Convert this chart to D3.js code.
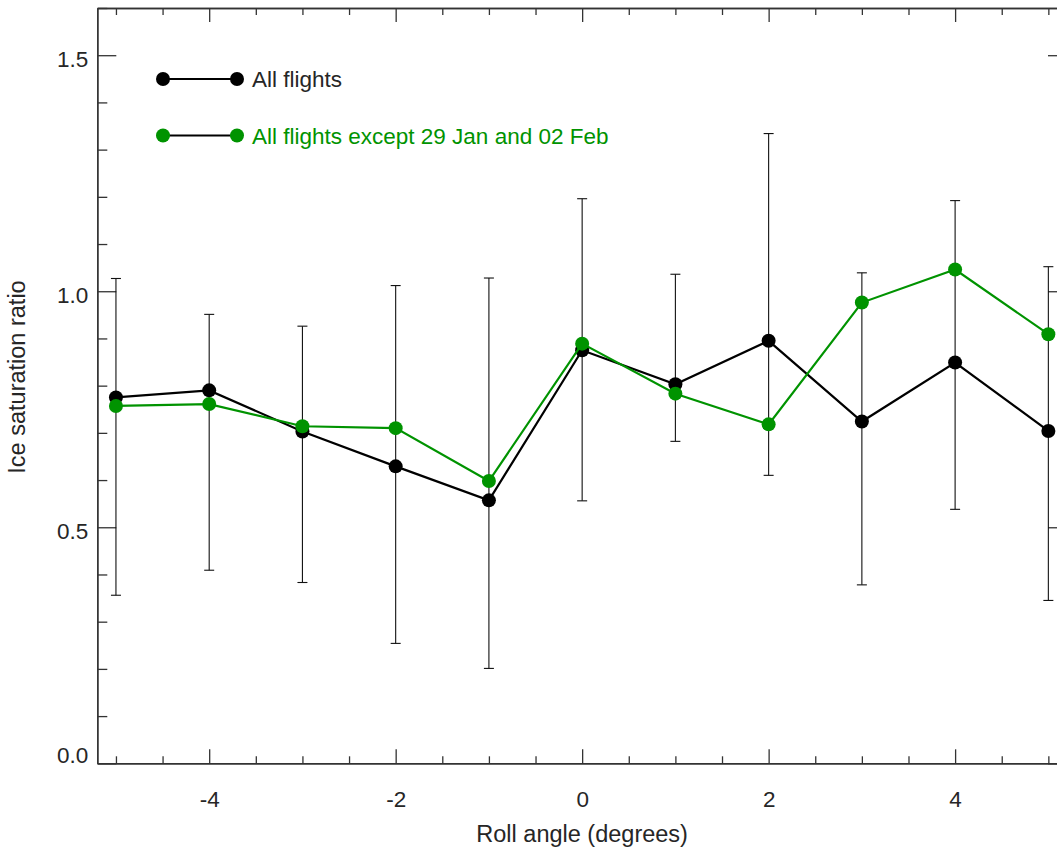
<!DOCTYPE html>
<html>
<head>
<meta charset="utf-8">
<script src="https://cdn.jsdelivr.net/npm/d3@7"></script>
<style>
  body { margin: 0; background: #fff; }
  text { font-family: "Liberation Sans", Arial, Helvetica, sans-serif; fill: #262626; }
</style>
</head>
<body>
<div id="chart"></div>
<script>
// roll angle bins (degrees)
var rollAngle = [-5, -4, -3, -2, -1, 0, 1, 2, 3, 4, 5];
// all flights
var allFlights = [0.775, 0.790, 0.703, 0.629, 0.557, 0.875, 0.803, 0.895, 0.724, 0.849, 0.704];
// all flights except 29 Jan and 02 Feb
var exceptFlights = [0.757, 0.761, 0.714, 0.710, 0.598, 0.889, 0.783, 0.718, 0.976, 1.046, 0.909];
// error bar limits
var errLow = [0.356, 0.409, 0.383, 0.254, 0.201, 0.556, 0.682, 0.610, 0.378, 0.538, 0.345];
var errHigh = [1.027, 0.951, 0.926, 1.012, 1.028, 1.196, 1.036, 1.334, 1.039, 1.192, 1.052];

var xMajor = [-4, -2, 0, 2, 4];
var xMinor = [-5, -4.5, -3.5, -3, -2.5, -1.5, -1, -0.5, 0.5, 1, 1.5, 2.5, 3, 3.5, 4.5, 5];
var yMajor = [0, 0.5, 1.0, 1.5];
var yMinor = [0.1, 0.2, 0.3, 0.4, 0.6, 0.7, 0.8, 0.9, 1.1, 1.2, 1.3, 1.4, 1.6];

var legendLabels = ["All flights", "All flights except 29 Jan and 02 Feb"];
var green = "#009300";

var W = 1057, H = 849;
var margin = { top: 8, left: 97.3 },
    width = 1067 - margin.left,
    height = 763.3 - margin.top;

var svg = d3.select("#chart").append("svg")
    .attr("width", W)
    .attr("height", H)
  .append("g")
    .attr("transform", "translate(" + margin.left + "," + margin.top + ")");

var x = d3.scaleLinear().domain([-5.2, 5.2]).range([0, width]);
var y = d3.scaleLinear().domain([0, 1.6]).range([height, 0]);

function styleAxis(g) {
    g.selectAll("path.domain").attr("stroke", "#333").attr("stroke-width", 1.4);
    g.selectAll(".tick line").attr("stroke", "#333").attr("stroke-width", 1.3);
    g.selectAll("text").attr("font-size", "22.5px").attr("fill", "#262626")
        .attr("font-family", '"Liberation Sans", Arial, sans-serif');
}

// minor ticks first
svg.append("g").attr("transform", "translate(0," + height + ")")
    .call(d3.axisBottom(x).tickValues(xMinor).tickSize(-7).tickSizeOuter(0).tickFormat(""))
    .call(styleAxis);
svg.append("g")
    .call(d3.axisTop(x).tickValues(xMinor).tickSize(-7).tickSizeOuter(0).tickFormat(""))
    .call(styleAxis);
svg.append("g")
    .call(d3.axisLeft(y).tickValues(yMinor).tickSize(-10).tickSizeOuter(0).tickFormat(""))
    .call(styleAxis);
svg.append("g").attr("transform", "translate(" + width + ",0)")
    .call(d3.axisRight(y).tickValues(yMinor).tickSize(-10).tickSizeOuter(0).tickFormat(""))
    .call(styleAxis);

// major ticks
svg.append("g").attr("transform", "translate(0," + height + ")")
    .call(d3.axisBottom(x).tickValues(xMajor).tickSize(-14).tickSizeOuter(0)
        .tickPadding(28).tickFormat(d => String(d)))
    .call(styleAxis);
svg.append("g")
    .call(d3.axisTop(x).tickValues(xMajor).tickSize(-14).tickSizeOuter(0).tickFormat(""))
    .call(styleAxis);
var yAx = svg.append("g")
    .call(d3.axisLeft(y).tickValues(yMajor).tickSize(-19).tickSizeOuter(0)
        .tickPadding(9).tickFormat(d => d.toFixed(1)))
    .call(styleAxis);
yAx.selectAll(".tick text").attr("dy", function(d) { return d === 0 ? "-0.05em" : "0.5em"; });
svg.append("g").attr("transform", "translate(" + width + ",0)")
    .call(d3.axisRight(y).tickValues(yMajor).tickSize(-19).tickSizeOuter(0).tickFormat(""))
    .call(styleAxis);

// error bars
var eb = svg.append("g").selectAll(".err")
    .data(rollAngle)
  .enter().append("g")
    .attr("class", "err");
eb.append("line")
    .attr("x1", d => x(d)).attr("x2", d => x(d))
    .attr("y1", (d, i) => y(errLow[i])).attr("y2", (d, i) => y(errHigh[i]));
eb.append("line")
    .attr("x1", d => x(d) - 5).attr("x2", d => x(d) + 5)
    .attr("y1", (d, i) => y(errLow[i])).attr("y2", (d, i) => y(errLow[i]));
eb.append("line")
    .attr("x1", d => x(d) - 5).attr("x2", d => x(d) + 5)
    .attr("y1", (d, i) => y(errHigh[i])).attr("y2", (d, i) => y(errHigh[i]));
eb.selectAll("line").attr("stroke", "#111").attr("stroke-width", 1.1);

function drawSeries(vals, color) {
    var line = d3.line()
        .x((d, i) => x(rollAngle[i]))
        .y(d => y(d));
    svg.append("path")
        .datum(vals)
        .attr("d", line)
        .attr("fill", "none")
        .attr("stroke", color)
        .attr("stroke-width", 2.2);
    svg.append("g").selectAll("circle")
        .data(vals)
      .enter().append("circle")
        .attr("cx", (d, i) => x(rollAngle[i]))
        .attr("cy", d => y(d))
        .attr("r", 7)
        .attr("fill", color);
}

drawSeries(allFlights, "#000");
drawSeries(exceptFlights, green);

// legend
var legend = svg.append("g").attr("transform", "translate(" + (163 - margin.left) + "," + (79 - margin.top) + ")");
var legendColors = ["#000", green];
legendLabels.forEach(function(lab, i) {
    var row = legend.append("g").attr("transform", "translate(0," + (i * 56.5) + ")");
    row.append("line").attr("x1", 0).attr("x2", 74).attr("y1", 0).attr("y2", 0)
        .attr("stroke", "#000").attr("stroke-width", 2.2);
    row.append("circle").attr("cx", 0).attr("cy", 0).attr("r", 7).attr("fill", legendColors[i]);
    row.append("circle").attr("cx", 74).attr("cy", 0).attr("r", 7).attr("fill", legendColors[i]);
    row.append("text").attr("x", 89).attr("y", 0).attr("dy", "0.36em")
        .attr("font-size", "22.5px")
        .style("fill", i === 0 ? "#262626" : green)
        .text(lab);
});

// axis titles
svg.append("text")
    .attr("x", x(0)).attr("y", 842 - margin.top)
    .attr("text-anchor", "middle")
    .attr("font-size", "23.5px")
    .text("Roll angle (degrees)");
svg.append("text")
    .attr("transform", "translate(" + (25 - margin.left) + "," + (377 - margin.top) + ") rotate(-90)")
    .attr("text-anchor", "middle")
    .attr("font-size", "23.5px")
    .text("Ice saturation ratio");
</script>
</body>
</html>
